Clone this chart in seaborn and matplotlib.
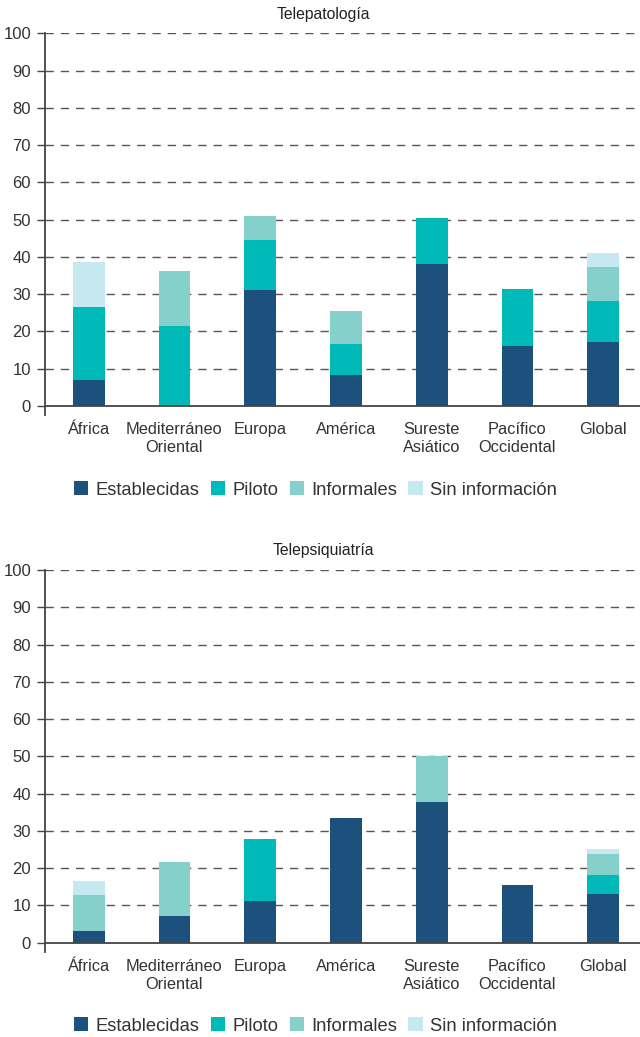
import matplotlib
matplotlib.use("Agg")
import matplotlib.pyplot as plt
import seaborn as sns
import numpy as np
from matplotlib.patches import Patch

sns.set_theme(style="white")
plt.rcParams['font.family'] = ['Liberation Sans', 'DejaVu Sans']

categories = ["África", "Mediterráneo\nOriental", "Europa", "América",
              "Sureste\nAsiático", "Pacífico\nOccidental", "Global"]
series_names = ["Establecidas", "Piloto", "Informales", "Sin información"]
colors = ["#1D517D", "#00BAB9", "#86D0CB", "#C6E8F0"]

# Telepatología
tp_establecidas = [7.0, 0.0, 31.1, 8.3, 38.1, 16.1, 17.2]
tp_piloto       = [19.6, 21.5, 13.4, 8.3, 12.3, 15.3, 11.0]
tp_informales   = [0.0, 14.7, 6.5, 8.9, 0.0, 0.0, 9.1]
tp_sininfo      = [12.0, 0.0, 0.0, 0.0, 0.0, 0.0, 3.8]

# Telepsiquiatría
ps_establecidas = [3.1, 7.2, 11.2, 33.5, 37.7, 15.5, 13.1]
ps_piloto       = [0.0, 0.0, 16.6, 0.0, 0.0, 0.0, 5.1]
ps_informales   = [9.7, 14.4, 0.0, 0.0, 12.4, 0.0, 5.6]
ps_sininfo      = [3.7, 0.0, 0.0, 0.0, 0.0, 0.0, 1.3]

yticks = [0, 10, 20, 30, 40, 50, 60, 70, 80, 90, 100]

fig = plt.figure(figsize=(6.4, 10.37), dpi=100)

def draw(ax, series, title, title_y, legend_y):
    bottoms = np.zeros(len(categories))
    for vals, c in zip(series, colors):
        v = np.array(vals)
        sns.barplot(x=categories, y=v, bottom=bottoms, color=c, width=0.37,
                    saturation=1, ax=ax, linewidth=0, errorbar=None)
        bottoms = bottoms + v
    ax.set_ylim(-2.5, 100)
    ax.set_xlim(-0.51, 6.43)
    ax.set_yticks(yticks)
    ax.set_yticklabels([str(t) for t in yticks], fontsize=12, color="#333333")
    ax.tick_params(axis='y', length=6, width=1, color="#444444", pad=4, left=True)
    ax.tick_params(axis='x', length=0, pad=5)
    ax.set_xticks(range(len(categories)))
    ax.set_xticklabels(categories, fontsize=11.8, color="#333333", linespacing=1.25)
    for t in yticks[1:]:
        ax.axhline(t, color="#555555", lw=1, ls=(0, (6, 5)), zorder=0.5)
    ax.axhline(0, color="#444444", lw=1.3, zorder=3)
    for s in ["top", "right", "bottom"]:
        ax.spines[s].set_visible(False)
    ax.spines["left"].set_color("#444444")
    ax.spines["left"].set_linewidth(1.3)
    ax.set_xlabel("")
    ax.set_ylabel("")
    ax.grid(False)
    fig.text(0.505, title_y, title, ha="center", va="center", fontsize=11.3, color="#222222")
    handles = [Patch(facecolor=c, edgecolor="none", label=n) for c, n in zip(colors, series_names)]
    fig.legend(handles=handles, loc="center", bbox_to_anchor=(0.493, legend_y), ncol=4,
               frameon=False, fontsize=13.2, handlelength=0.8, handleheight=0.8,
               handletextpad=0.4, columnspacing=0.6, labelcolor="#333333")

ax1 = fig.add_axes([0.0703, 0.5995, 0.9297, 0.3684])
draw(ax1, [tp_establecidas, tp_piloto, tp_informales, tp_sininfo], "Telepatología",
     1 - 14 / 1037, 1 - 490 / 1037)

ax2 = fig.add_axes([0.0703, 0.0820, 0.9297, 0.3683])
draw(ax2, [ps_establecidas, ps_piloto, ps_informales, ps_sininfo], "Telepsiquiatría",
     1 - 551 / 1037, 1 - 1026 / 1037)

fig.savefig("out.png", dpi=100)
